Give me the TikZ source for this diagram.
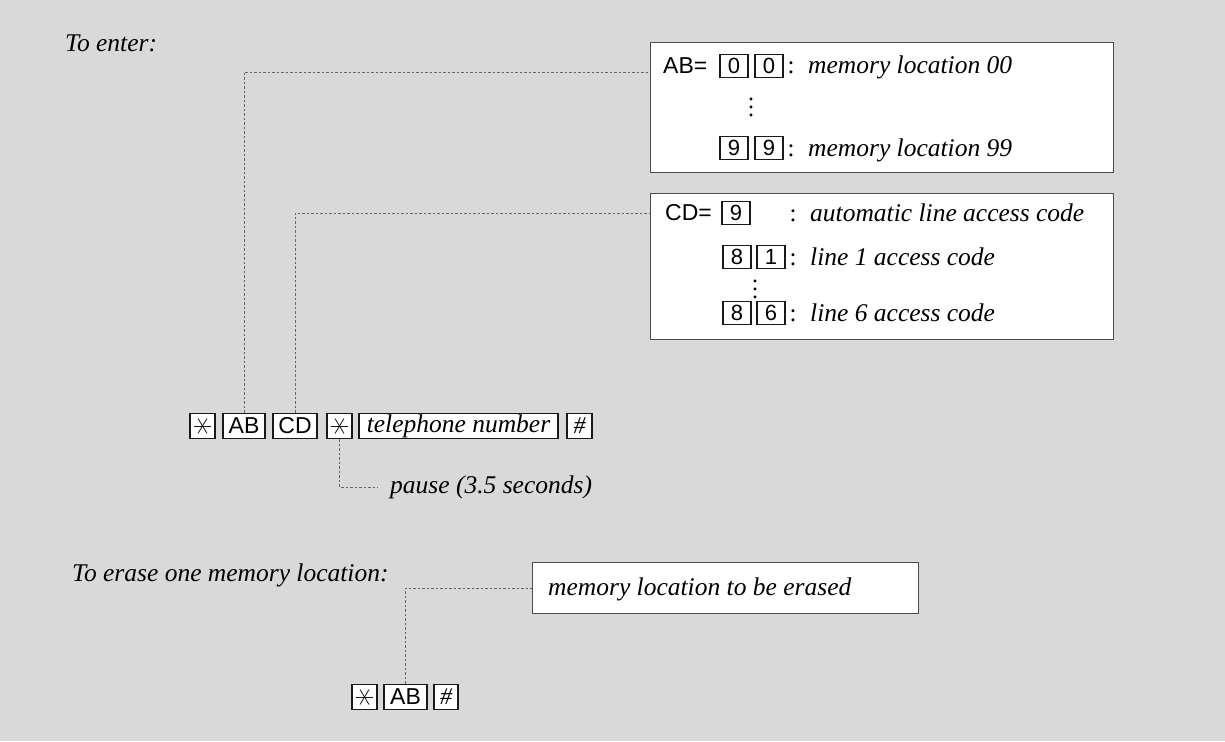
\documentclass[tikz,border=0pt]{standalone}
\usepackage{fontspec}
\setmainfont{Liberation Serif}
\setsansfont{Liberation Sans}
\newcommand{\tallvdots}{\vbox{\baselineskip=8pt\lineskiplimit=-20pt\hbox{.}\hbox{.}\hbox{.}}}
\begin{document}
\begin{tikzpicture}[x=1pt,y=-1pt]
\tikzset{
 lbl/.style={font=\fontsize{25.5}{30}\selectfont\itshape, inner sep=0, anchor=base west},
 sans/.style={font=\fontsize{23}{26}\selectfont\sffamily, inner sep=0, anchor=west},
 colonlbl/.style={font=\fontsize{25}{28}\selectfont, inner sep=0, anchor=base},
 keyb/.style={draw=black!90, line width=1.1pt, fill=white, inner sep=0, minimum height=25pt, font=\fontsize{23}{26}\selectfont\sffamily},
 digit/.style={keyb, minimum width=28pt, minimum height=23pt, font=\fontsize{22}{24}\selectfont\sffamily},
 starkey/.style={keyb, minimum width=25pt, path picture={
   \draw[line width=0.8pt] (path picture bounding box.center) ++(-8.5pt,0) -- ++(17pt,0);
   \draw[line width=0.8pt] (path picture bounding box.center) ++(-4.5pt,-7.5pt) -- ++(9pt,15pt);
   \draw[line width=0.8pt] (path picture bounding box.center) ++(-4.5pt,7.5pt) -- ++(9pt,-15pt);}},
 panel/.style={draw=black!70, line width=0.9pt, fill=white, inner sep=0, anchor=north west},
 lead/.style={draw=black!60, line width=0.8pt, dash pattern=on 2.5pt off 2pt},
 vdotsl/.style={font=\fontsize{24}{8}\selectfont, inner sep=0},
}
% background
\fill[black!15] (0,0) rectangle (1225,741);
\useasboundingbox (0,0) rectangle (1225,741);

% headings
\node[lbl] (enter) at (65,52) {To enter:};
\node[lbl] (erase) at (72,581) {To erase one memory location:};

% panel 1
\node[panel, minimum width=463pt, minimum height=130pt] (box1) at (650,42) {};
\node[sans] (ab) at (663,66) {AB=};
\node[digit] (d00a) at (734,66) {0};
\node[digit] (d00b) at (769,66) {0};
\node[colonlbl] (c1) at (791,74) {:};
\node[lbl] (m00) at (808,74) {memory location 00};
\node[vdotsl] (v1) at (751,107) {\tallvdots};
\node[digit] (d99a) at (734,148) {9};
\node[digit] (d99b) at (769,148) {9};
\node[colonlbl] (c2) at (791,156) {:};
\node[lbl] (m99) at (808,156) {memory location 99};

% panel 2
\node[panel, minimum width=463pt, minimum height=146pt] (box2) at (650,193) {};
\node[sans] (cd) at (665,213) {CD=};
\node[digit] (d9) at (736,213) {9};
\node[colonlbl] (c3) at (793,221) {:};
\node[lbl] (auto) at (810,221) {automatic line access code};
\node[digit] (d81a) at (737,257) {8};
\node[digit] (d81b) at (771,257) {1};
\node[colonlbl] (c4) at (793,265) {:};
\node[lbl] (l1) at (810,265) {line 1 access code};
\node[vdotsl] (v2) at (755,289) {\tallvdots};
\node[digit] (d86a) at (737,313) {8};
\node[digit] (d86b) at (771,313) {6};
\node[colonlbl] (c5) at (793,321) {:};
\node[lbl] (l6) at (810,321) {line 6 access code};

% key row
\node[starkey] (s1) at (202.5,426) {};
\node[keyb, minimum width=42pt] (kab) at (244,426) {AB};
\node[keyb, minimum width=44pt] (kcd) at (295,426) {CD};
\node[starkey] (s2) at (339.5,426) {};
\node[keyb, minimum width=199pt, font=\fontsize{25.5}{30}\selectfont\itshape] (tel) at (458.5,426) {telephone number};
\node[keyb, minimum width=25pt, font=\fontsize{24}{26}\selectfont\itshape] (hash) at (579.5,426) {\#};
\node[lbl, anchor=west] (pause) at (390,487) {pause (3.5 seconds)};

% erase
\node[panel, minimum width=386pt, minimum height=51pt] (ebox) at (532,562) {};
\node[lbl] (etext) at (548,595) {memory location to be erased};
\node[starkey] (s3) at (364.5,697) {};
\node[keyb, minimum width=43pt] (kab2) at (405.5,697) {AB};
\node[keyb, minimum width=24pt, font=\fontsize{24}{26}\selectfont\itshape] (hash2) at (446,697) {\#};

% leaders
\draw[lead] (kab.north) |- ([yshift=-30pt]box1.north west);
\draw[lead] (kcd.north) |- ([yshift=-20pt]box2.north west);
\draw[lead] (s2.south) |- ([xshift=-12pt]pause.west);
\draw[lead] (kab2.north) |- (ebox.west);
\end{tikzpicture}
\end{document}
